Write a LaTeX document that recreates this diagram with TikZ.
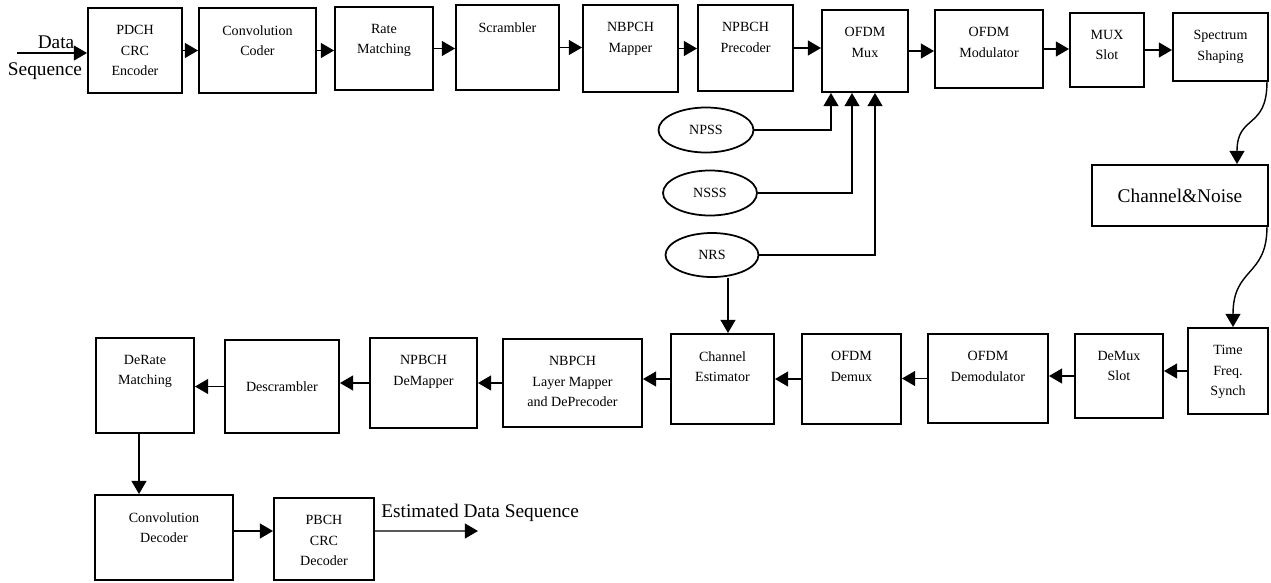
\documentclass[tikz,border=0pt]{standalone}
\usepackage{fontspec}
\setmainfont{Liberation Serif}
\usetikzlibrary{arrows.meta,shapes.geometric}

\begin{document}
\begin{tikzpicture}[x=0.2mm,y=-0.2mm]

\tikzstyle{block}=[draw, line width=1.1pt, inner sep=0pt, font=\fontsize{8}{11.5}\selectfont]
\tikzstyle{src}=[draw, ellipse, line width=1pt, inner sep=0pt, font=\fontsize{8}{11.5}\selectfont]
\tikzstyle{txt}=[anchor=north, align=center, inner sep=0pt, yshift=-10.3pt, font=\fontsize{8}{11.5}\selectfont]
\tikzstyle{big}=[inner sep=0pt, font=\fontsize{11}{13}\selectfont]
\tikzstyle{arr}=[line width=0.8pt, -{Triangle[length=7.5pt,width=8.5pt]}]
\tikzset{wh/.style 2 args={minimum width=#1mm, minimum height=#2mm}}

\useasboundingbox (0,0) rectangle (1271,582);

% transmitter chain
\node[block, wh={18.8}{17}, label={[txt]north:{PDCH\\CRC\\Encoder}}] (enc) at (135,50.5){};
\node[block, wh={23.4}{17}, label={[txt]north:{Convolution\\Coder}}] (conv) at (257.5,50.5){};
\node[block, wh={19.6}{16.6}, label={[txt]north:{Rate\\Matching}}] (rate) at (384,48.5){};
\node[block, wh={20.6}{17}, label={[txt]north:{Scrambler}}] (scr) at (507.5,47.5){};
\node[block, wh={19}{17.4}, label={[txt]north:{NBPCH\\Mapper}}] (map) at (630.5,48.5){};
\node[block, wh={19}{17.2}, label={[txt]north:{NPBCH\\Precoder}}] (prec) at (745.5,48){};
\node[block, wh={17.2}{16.4}, label={[txt]north:{OFDM\\Mux}}] (mux) at (865,51){};
\node[block, wh={21.6}{15.6}, label={[txt]north:{OFDM\\Modulator}}] (mod) at (989,49){};
\node[block, wh={14.8}{14.8}, label={[txt]north:{MUX\\Slot}}] (slot) at (1107,50){};
\node[block, wh={19}{13.6}, label={[txt]north:{Spectrum\\Shaping}}] (spec) at (1220.5,47){};

% channel
\node[block, wh={35.2}{12.2}, font=\fontsize{11}{13}\selectfont] (chn) at (1180,195.5){Channel\&Noise};

% synchronisation and reference signals
\node[src, wh={19}{9}] (npss) at (706,130){NPSS};
\node[src, wh={18.8}{9}] (nsss) at (710,193){NSSS};
\node[src, wh={18.6}{8.8}] (nrs) at (712,255){NRS};

% receiver chain
\node[block, wh={16}{17.2}, label={[txt]north:{Time\\Freq.\\Synch}}] (sync) at (1228,371){};
\node[block, wh={17.6}{16.8}, label={[txt]north:{DeMux\\Slot}}] (dslot) at (1119,376){};
\node[block, wh={24}{17.8}, label={[txt]north:{OFDM\\Demodulator}}] (demod) at (988,378.5){};
\node[block, wh={19.8}{18}, label={[txt]north:{OFDM\\Demux}}] (demux) at (851.5,379){};
\node[block, wh={20.6}{18}, label={[txt]north:{Channel\\Estimator}}] (est) at (722.5,379){};
\node[block, wh={27.8}{17.6}, label={[txt]north:{NBPCH\\Layer Mapper\\and DePrecoder}}] (lmap) at (572.5,383){};
\node[block, wh={21.4}{18}, label={[txt]north:{NPBCH\\DeMapper}}] (dmap) at (423.5,383){};
\node[block, wh={22.8}{18.6}] (dscr) at (282,386.5){Descrambler};
\node[block, wh={19.6}{19}, label={[txt]north:{DeRate\\Matching}}] (drate) at (145,385.5){};
\node[block, wh={27.6}{17}, label={[txt]north:{Convolution\\Decoder}}] (cdec) at (164,537.5){};
\node[block, wh={20}{16.4}, label={[txt]north:{PBCH\\CRC\\Decoder}}] (crcdec) at (324,539){};

% input and output
\coordinate (in) at (17,53);
\coordinate (out) at (478,531);
\node[big] (din1) at (56,42){Data};
\node[big] (din2) at (45,71){Sequence};
\node[big, anchor=west] (dout) at (381,513){Estimated Data Sequence};

\draw[arr] (in) -- (in -| enc.west);
\draw[arr] (enc.east) -- (enc.east -| conv.west);
\draw[arr] (conv.east) -- (conv.east -| rate.west);
\draw[arr] (rate.east) -- (rate.east -| scr.west);
\draw[arr] (scr.east) -- (scr.east -| map.west);
\draw[arr] (map.east) -- (map.east -| prec.west);
\draw[arr] (prec.east) -- (prec.east -| mux.west);
\draw[arr] (mux.east) -- (mux.east -| mod.west);
\draw[arr] (mod.east) -- (mod.east -| slot.west);
\draw[arr] (slot.east) -- (slot.east -| spec.west);

\draw[arr] (npss.east) -| ([xshift=-6.8mm]mux.south);
\draw[arr] (nsss.east) -| ([xshift=-2.6mm]mux.south);
\draw[arr] (nrs.east) -| ([xshift=2mm]mux.south);
\draw[arr] ([xshift=3.2mm]nrs.south) -- ([xshift=3.2mm]nrs.south |- est.north);

\draw[arr] ([xshift=-0.4mm]spec.south east) .. controls +(0,48) and +(0,-50) .. ([xshift=11.4mm]chn.north);
\draw[arr] ([xshift=-0.4mm]chn.south east) .. controls +(0,50) and +(0,-60) .. ([xshift=1mm]sync.north);

\draw[arr] (sync.west) -- (sync.west -| dslot.east);
\draw[arr] (dslot.west) -- (dslot.west -| demod.east);
\draw[arr] (demod.west) -- (demod.west -| demux.east);
\draw[arr] (demux.west) -- (demux.west -| est.east);
\draw[arr] (est.west) -- (est.west -| lmap.east);
\draw[arr] (lmap.west) -- (lmap.west -| dmap.east);
\draw[arr] (dmap.west) -- (dmap.west -| dscr.east);
\draw[arr] (dscr.west) -- (dscr.west -| drate.east);

\draw[arr] ([xshift=-1.2mm]drate.south) -- ([xshift=-1.2mm]drate.south |- cdec.north);
\draw[arr] ([yshift=1.3mm]cdec.east) -- ([yshift=1.3mm]cdec.east -| crcdec.west);
\draw[arr] ([yshift=1.6mm]crcdec.east) -- (out);
\end{tikzpicture}
\end{document}
